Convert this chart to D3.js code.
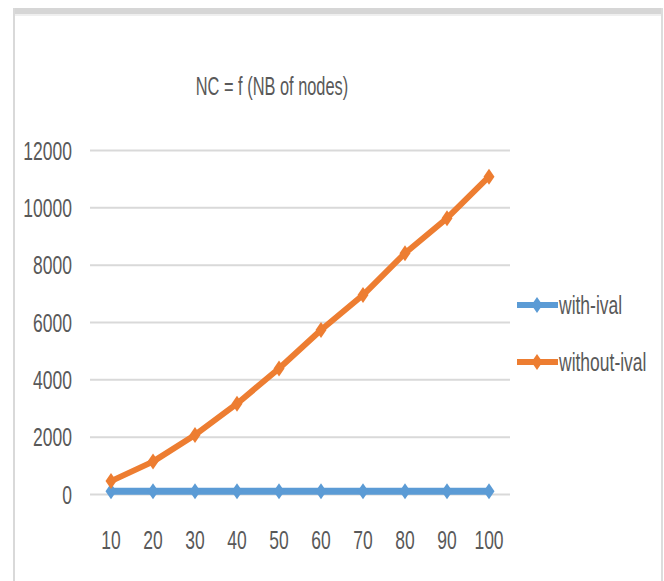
<!DOCTYPE html>
<html>
<head>
<meta charset="utf-8">
<script src="https://cdn.jsdelivr.net/npm/d3@7/dist/d3.min.js"></script>
<style>
  html, body { margin: 0; padding: 0; background: #fff; }
  svg { display: block; }
  text { font-family: "Liberation Sans", Arial, sans-serif; fill: #595959; }
</style>
</head>
<body>
<svg id="chart" width="664" height="581"></svg>
<script>
// ---- data ----
const categories = ["10", "20", "30", "40", "50", "60", "70", "80", "90", "100"];
const withIval = [100, 100, 100, 100, 100, 100, 100, 100, 100, 100];
const withoutIval = [450, 1130, 2060, 3150, 4380, 5720, 6940, 8400, 9620, 11070];
const yTicks = [0, 2000, 4000, 6000, 8000, 10000, 12000];
const seriesNames = ["with-ival", "without-ival"];
const title = "NC = f (NB of nodes)";

// ---- layout ----
const W = 664, H = 581;
const plot = { left: 90, right: 510, top: 150, bottom: 494 };
const FS = 25;     // font size
const SX = 0.7;    // horizontal condensation of text
const colors = ["#5B9BD5", "#ED7D31"];

const svg = d3.select("#chart");

// frame decoration
svg.append("rect").attr("x", 0).attr("y", 0).attr("width", W).attr("height", H).attr("fill", "#fff");
svg.append("rect").attr("x", 13).attr("y", 8).attr("width", 650).attr("height", 6).attr("fill", "#d6d6d6");
svg.append("rect").attr("x", 13).attr("y", 14).attr("width", 650).attr("height", 2).attr("fill", "#efefef");
svg.append("rect").attr("x", 13).attr("y", 8).attr("width", 2).attr("height", H - 8).attr("fill", "#d9d9d9");
svg.append("rect").attr("x", 661).attr("y", 8).attr("width", 2).attr("height", H - 8).attr("fill", "#dcdcdc");

const x = d3.scaleBand().domain(categories).range([plot.left, plot.right]);
const y = d3.scaleLinear().domain([0, 12000]).range([plot.bottom, plot.top]);

// y axis + gridlines
const yAxis = svg.append("g")
  .attr("transform", `translate(${plot.left},0)`)
  .call(d3.axisLeft(y).tickValues(yTicks).tickSize(-(plot.right - plot.left)).tickFormat(d => String(d)));
yAxis.select(".domain").remove();
yAxis.selectAll(".tick line").attr("stroke", "#d9d9d9").attr("stroke-width", 2);
yAxis.selectAll(".tick text")
  .attr("x", -18 / SX)
  .attr("dy", 9)
  .attr("transform", `scale(${SX},1)`)
  .style("font-size", FS + "px")
  .style("font-family", "'Liberation Sans', Arial, sans-serif")
  .attr("fill", "#595959");

// x axis labels
const xAxis = svg.append("g")
  .attr("transform", `translate(0,${plot.bottom})`)
  .call(d3.axisBottom(x).tickSize(0));
xAxis.select(".domain").remove();
xAxis.selectAll(".tick text")
  .attr("y", 55)
  .attr("dy", 0)
  .attr("transform", `scale(${SX},1)`)
  .style("font-size", FS + "px")
  .style("font-family", "'Liberation Sans', Arial, sans-serif")
  .attr("fill", "#595959");

// title
svg.append("text")
  .attr("transform", `translate(272,95) scale(0.63,1)`)
  .attr("text-anchor", "middle")
  .style("font-size", "26px")
  .text(title);

// series
const diamond = (cx, cy) => `M${cx},${cy - 8}L${cx + 5.5},${cy}L${cx},${cy + 8}L${cx - 5.5},${cy}Z`;
const series = [withIval, withoutIval];
const widths = [7, 6];
const line = d3.line().x((d, i) => x(categories[i]) + x.bandwidth() / 2).y(d => y(d));

series.forEach((vals, s) => {
  const g = svg.append("g");
  g.append("path")
    .attr("d", line(vals))
    .attr("fill", "none")
    .attr("stroke", colors[s])
    .attr("stroke-width", widths[s])
    .attr("stroke-linejoin", "round");
  g.selectAll("path.m")
    .data(vals)
    .enter().append("path")
    .attr("class", "m")
    .attr("d", (d, i) => diamond(x(categories[i]) + x.bandwidth() / 2, y(d)))
    .attr("fill", colors[s]);
});

// legend
const legendY = [305, 362];
seriesNames.forEach((name, s) => {
  const g = svg.append("g");
  g.append("line")
    .attr("x1", 517).attr("x2", 558)
    .attr("y1", legendY[s]).attr("y2", legendY[s])
    .attr("stroke", colors[s]).attr("stroke-width", 6);
  g.append("path").attr("d", diamond(537, legendY[s])).attr("fill", colors[s]);
  g.append("text")
    .attr("transform", `translate(559,${legendY[s] + 9}) scale(${SX},1)`)
    .style("font-size", FS + "px")
    .text(name);
});
</script>
</body>
</html>
